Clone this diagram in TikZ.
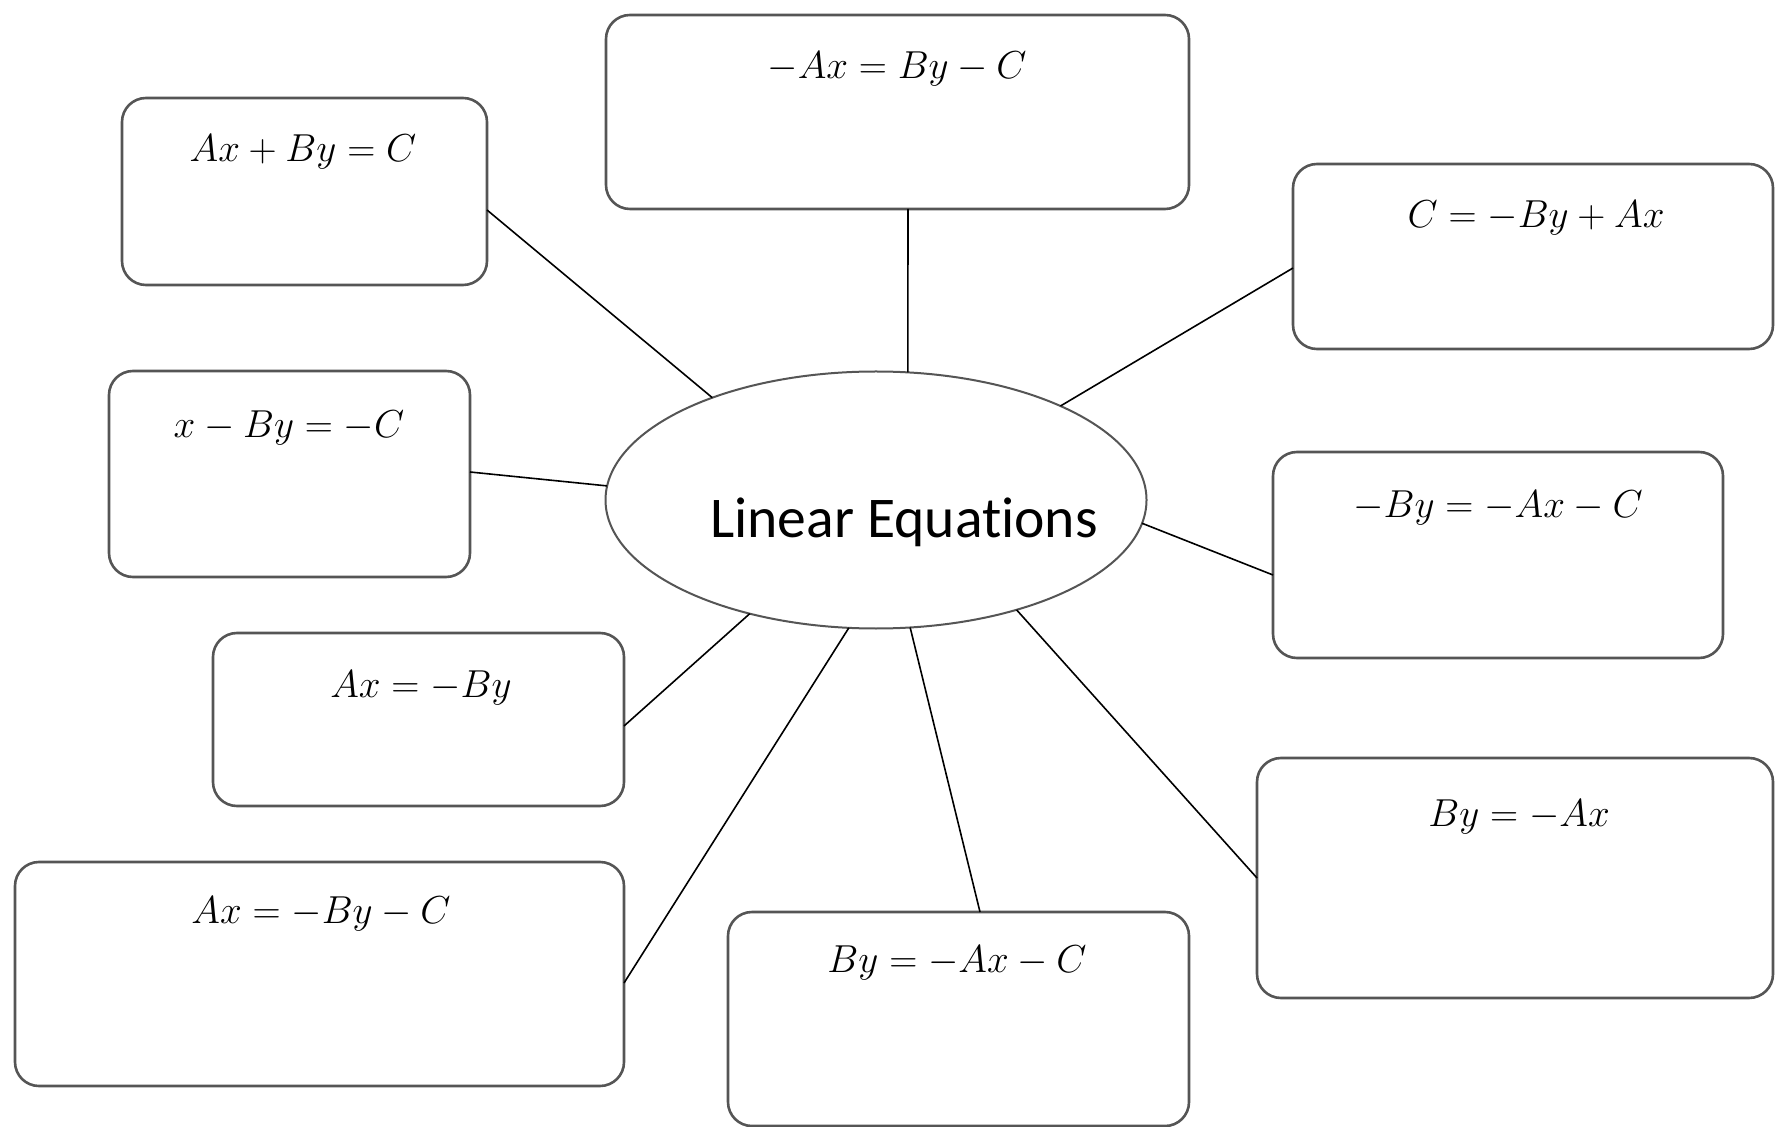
\documentclass[tikz,border=0pt]{standalone}
\usepackage{graphicx}
\usepackage{fontspec}
\newfontfamily\calfont[Ligatures=NoCommon]{Carlito}
\usetikzlibrary{shapes.geometric,calc}
\definecolor{boxgray}{RGB}{85,85,85}
\newcommand{\eqtext}[1]{\scalebox{0.94}{$#1$}}
\begin{document}
\begin{tikzpicture}[x=0.5pt,y=-0.5pt,
  box/.style={draw=boxgray, line width=1.3pt, rounded corners=12pt, inner sep=0pt, outer sep=0pt, fill=white},
  ell/.style={draw=boxgray, line width=1pt, ellipse, inner sep=0pt, outer sep=0pt, fill=white},
  eq/.style={anchor=base, inner sep=0pt, font=\fontsize{20}{24}\selectfont},
  title/.style={anchor=base, inner sep=0pt, font=\calfont\fontsize{28.8}{33}\selectfont},
  link/.style={draw=black, line width=0.8pt}]
\useasboundingbox[fill=white] (0,0) rectangle (1775,1127);

% central ellipse
\node[ell, minimum width=270.5pt, minimum height=128.5pt] (c) at (876,500) {};
\node[title] (ct) at (904,538) {Linear Equations};

% boxes
\node[box, minimum width=291.5pt, minimum height=97pt]  (b1) at (897.5,112) {};
\node[box, minimum width=182.5pt, minimum height=93.5pt] (b2) at (304.5,191.5) {};
\node[box, minimum width=240pt,   minimum height=92.5pt] (b3) at (1533,256.5) {};
\node[box, minimum width=180.5pt, minimum height=103pt] (b4) at (289.5,474) {};
\node[box, minimum width=225pt,   minimum height=103pt] (b5) at (1498,555) {};
\node[box, minimum width=205.5pt, minimum height=86.5pt] (b6) at (418.5,719.5) {};
\node[box, minimum width=258pt,   minimum height=120pt] (b7) at (1515,878) {};
\node[box, minimum width=304.5pt, minimum height=112pt] (b8) at (319.5,974) {};
\node[box, minimum width=230.5pt, minimum height=107pt] (b9) at (958.5,1019) {};

% equations
\node[eq] (t1) at (897,79)  {\eqtext{-Ax = By - C}};
\node[eq] (t2) at (303,162) {\eqtext{Ax + By = C}};
\node[eq] (t3) at (1536,228) {\eqtext{C = -By + Ax}};
\node[eq] (t4) at (289,438) {\eqtext{x - By = -C}};
\node[eq] (t5) at (1498,517) {\eqtext{-By = -Ax - C}};
\node[eq] (t6) at (421,697) {\eqtext{Ax = -By}};
\node[eq] (t7) at (1519,826) {\eqtext{By = -Ax}};
\node[eq] (t8) at (321,923) {\eqtext{Ax = -By - C}};
\node[eq] (t9) at (957,972) {\eqtext{By = -Ax - C}};

% connectors
\draw[link] ($(b1.south)+(10.5,0)$) -- (c.76);
\draw[link] ($(b2.east)+(0,18.5)$) -- (c.148);
\draw[link] ($(b3.west)+(0,11.5)$) -- (c.27.3);
\draw[link] ($(b4.east)+(0,-2)$) -- (c.177.7);
\draw[link] ($(b5.west)+(0,20)$) -- (c.355);
\draw[link] ($(b6.east)+(0,6.5)$) -- (c.222.8);
\draw[link] ($(b7.west)+(0,0)$) -- (c.322.8);
\draw[link] ($(b8.east)+(0,9)$) -- (c.258.5);
\draw[link] ($(b9.north)+(21.5,0)$) -- (c.285.5);
\end{tikzpicture}
\end{document}
